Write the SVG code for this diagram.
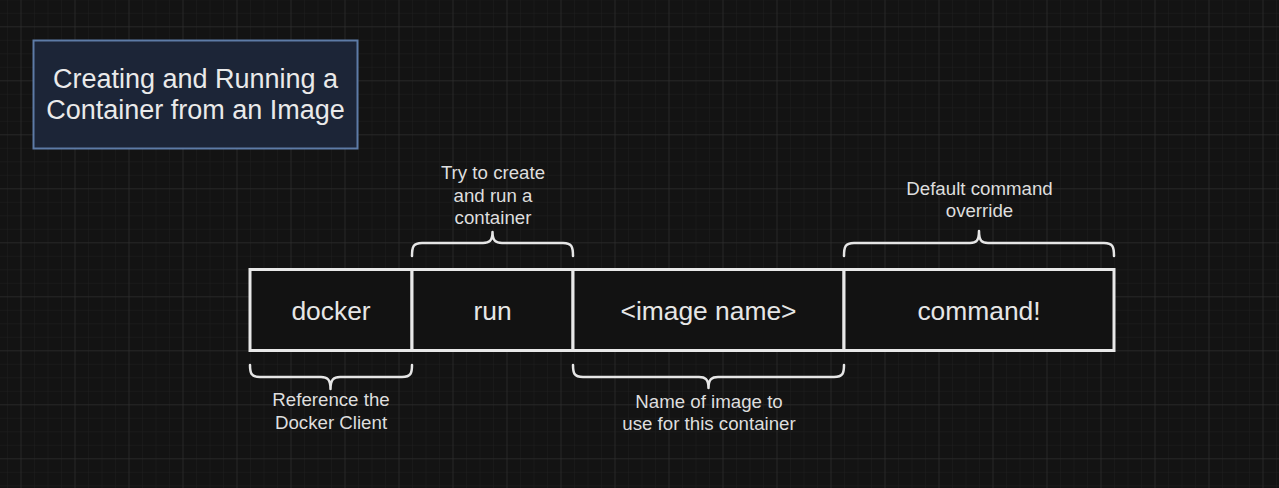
<svg xmlns="http://www.w3.org/2000/svg" width="1279" height="488" viewBox="0 0 1279 488">
  <defs>
    <pattern id="minor" patternUnits="userSpaceOnUse" x="7" y="12.8" width="13.5" height="13.5">
      <path d="M0 0 H13.5 M0 0 V13.5" fill="none" stroke="#1f1f1f" stroke-width="1"/>
    </pattern>
    <pattern id="major" patternUnits="userSpaceOnUse" x="20.5" y="26.3" width="54" height="54">
      <path d="M0 0 H54 M0 0 V54" fill="none" stroke="#323232" stroke-width="1"/>
    </pattern>
  </defs>
  <style>
    .cell { fill: #121212; stroke: #e8e8e8; stroke-width: 3; }
    .big { font-family: "Liberation Sans", Arial, sans-serif; font-size: 26.4px; fill: #e6e6e6; text-anchor: middle; }
    .lbl { font-family: "Liberation Sans", Arial, sans-serif; font-size: 18.7px; fill: #dedede; text-anchor: middle; }
    .brace { fill: none; stroke: #e6e6e6; stroke-width: 2.5; stroke-linecap: round; stroke-linejoin: round; }
    .title { font-family: "Liberation Sans", Arial, sans-serif; font-size: 27px; fill: #eaeaea; text-anchor: middle; }
  </style>
  <rect width="1279" height="488" fill="#131313"/>
  <rect width="1279" height="488" fill="url(#minor)"/>
  <rect width="1279" height="488" fill="url(#major)"/>

  <g id="title">
    <rect x="33.5" y="40.5" width="324" height="108" fill="#1c2537" stroke="#5d7ba6" stroke-width="2"/>
    <text class="title" x="195.5" y="87.5">Creating and Running a</text>
    <text class="title" x="195.5" y="119">Container from an Image</text>
  </g>

  <g id="node-docker">
    <rect class="cell" x="250" y="269.5" width="162" height="81"/>
    <text class="big" x="331" y="320">docker</text>
  </g>
  <g id="node-run">
    <rect class="cell" x="412" y="269.5" width="161" height="81"/>
    <text class="big" x="492.5" y="320">run</text>
  </g>
  <g id="node-image">
    <rect class="cell" x="573" y="269.5" width="271" height="81"/>
    <text class="big" x="708.5" y="320">&lt;image name&gt;</text>
  </g>
  <g id="node-command">
    <rect class="cell" x="844" y="269.5" width="270" height="81"/>
    <text class="big" x="979" y="320">command!</text>
  </g>

  <g id="connectors">
    <path class="brace" d="M412 256 C412 247 413 243 422 243 L483 243 C489 243 492.5 241 492.5 232 C492.5 241 496 243 502 243 L563 243 C572 243 573 247 573 256"/>
    <path class="brace" d="M844 256 C844 247 845 243 854 243 L970 243 C976 243 979 241 979 231 C979 241 982 243 988 243 L1104 243 C1113 243 1114 247 1114 256"/>
    <path class="brace" d="M250 365 C250 373 251 377 260 377 L321 377 C327 377 330.5 379 330.5 389 C330.5 379 334 377 340 377 L402 377 C411 377 412 373 412 365"/>
    <path class="brace" d="M573 365 C573 373 574 377 583 377 L699 377 C705 377 708.5 379 708.5 388 C708.5 379 712 377 718 377 L834 377 C843 377 844 373 844 365"/>
  </g>

  <g id="label-run">
    <text class="lbl" x="493" y="178.5">Try to create</text>
    <text class="lbl" x="493" y="201.5">and run a</text>
    <text class="lbl" x="493" y="224">container</text>
  </g>
  <g id="label-command">
    <text class="lbl" x="979.5" y="195">Default command</text>
    <text class="lbl" x="979.5" y="216.5">override</text>
  </g>
  <g id="label-docker">
    <text class="lbl" x="331" y="406">Reference the</text>
    <text class="lbl" x="331" y="428.5">Docker Client</text>
  </g>
  <g id="label-image">
    <text class="lbl" x="709" y="407.5">Name of image to</text>
    <text class="lbl" x="709" y="430">use for this container</text>
  </g>
</svg>
